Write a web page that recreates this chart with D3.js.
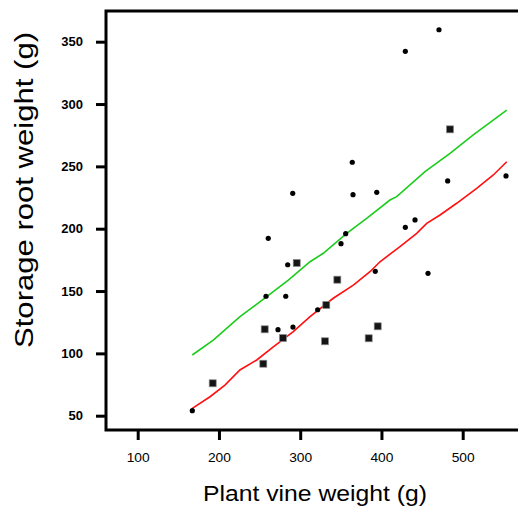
<!DOCTYPE html>
<html><head><meta charset="utf-8">
<script src="https://cdn.jsdelivr.net/npm/d3@7"></script>
<style>html,body{margin:0;padding:0;background:#fff;}svg{display:block;}</style>
</head><body>
<script>
// ---- data ----
const xTicks = [100, 200, 300, 400, 500];
const yTicks = [50, 100, 150, 200, 250, 300, 350];
const xLabel = "Plant vine weight (g)";
const yLabel = "Storage root weight (g)";

// group 1 (round markers)
const dotX = [470.8, 429.4, 364.1, 481.5, 553.3, 365.0, 394.2, 290.8, 260.7, 284.6, 257.9, 282.2, 272.7, 291.1, 167.2, 356.0, 350.2, 429.4, 441.3, 392.4, 457.3, 321.5];
const dotY = [359.6, 342.3, 253.3, 238.3, 242.3, 227.3, 229.2, 228.4, 192.3, 171.1, 145.8, 145.8, 119.0, 121.1, 54.0, 196.0, 188.0, 201.1, 207.0, 165.8, 164.2, 135.0];
// group 2 (square markers)
const sqX = [484.4, 295.7, 256.3, 278.8, 254.6, 192.3, 345.7, 332.1, 330.5, 395.4, 384.3];
const sqY = [279.7, 172.5, 119.3, 112.3, 91.7, 76.0, 159.1, 138.8, 109.7, 121.7, 112.1];

// fitted lines
const redX = [167.2, 189.0, 207.4, 225.8, 246.5, 266.9, 291.5, 312.1, 340.7, 365.4, 385.9, 398.2, 422.8, 443.4, 455.7, 472.1, 492.6, 517.2, 537.7, 554.2];
const redY = [55.9, 65.2, 74.6, 86.7, 94.7, 105.3, 117.4, 129.4, 144.2, 154.8, 165.5, 173.5, 185.6, 196.3, 204.3, 211.0, 220.4, 232.4, 243.1, 253.7];
const greenX = [167.2, 193.0, 225.9, 258.8, 285.4, 312.1, 328.4, 357.2, 381.8, 410.5, 418.8, 453.6, 484.4, 513.0, 554.2];
const greenY = [98.7, 110.7, 129.4, 145.5, 158.8, 173.5, 180.3, 196.3, 208.3, 223.0, 225.7, 245.7, 260.5, 275.2, 295.2];

// ---- drawing ----
const W = 518, H = 510;
const svg = d3.select("body").append("svg").attr("width", W).attr("height", H);

const x = d3.scaleLinear().domain([100, 500]).range([137.7, 462.7]);
const y = d3.scaleLinear().domain([50, 350]).range([415.7, 41.7]);

const fLeft = 106, fTop = 11, fBottom = 430, fRight = 540;

// frame
svg.append("path")
  .attr("d", `M${fRight},${fTop}H${fLeft}V${fBottom}H${fRight}`)
  .attr("fill", "none").attr("stroke", "#000").attr("stroke-width", 3);

// x axis
const xAxis = d3.axisBottom(x).tickValues(xTicks).tickSize(10).tickPadding(12).tickFormat(d3.format("d"));
const gx = svg.append("g").attr("transform", `translate(0,${fBottom})`).call(xAxis);
gx.select(".domain").remove();
gx.selectAll(".tick line").attr("stroke", "#000").attr("stroke-width", 3);
gx.selectAll(".tick text").attr("fill", "#000")
  .attr("textLength", 23).attr("lengthAdjust", "spacingAndGlyphs")
  .style("font-family", "'Liberation Sans', Arial, sans-serif").style("font-size", "13.5px");

// y axis
const yAxis = d3.axisLeft(y).tickValues(yTicks).tickSize(10).tickPadding(13).tickFormat(d3.format("d"));
const gy = svg.append("g").attr("transform", `translate(${fLeft},0)`).call(yAxis);
gy.select(".domain").remove();
gy.selectAll(".tick line").attr("stroke", "#000").attr("stroke-width", 3);
gy.selectAll(".tick text").attr("fill", "#000")
  .style("font-family", "'Liberation Sans', Arial, sans-serif").style("font-size", "13px").style("font-weight", "bold");

// labels
svg.append("text").text(xLabel)
  .attr("x", 315).attr("y", 500.5).attr("text-anchor", "middle")
  .attr("textLength", 224).attr("lengthAdjust", "spacingAndGlyphs")
  .style("font-family", "'Liberation Sans', Arial, sans-serif").style("font-size", "22px").attr("fill", "#000");

svg.append("text").text(yLabel)
  .attr("transform", "translate(33,190) rotate(-90)").attr("text-anchor", "middle")
  .attr("textLength", 316).attr("lengthAdjust", "spacingAndGlyphs")
  .style("font-family", "'Liberation Sans', Arial, sans-serif").style("font-size", "25px").attr("fill", "#000");

// lines
const line = d3.line().x(d => x(d[0])).y(d => y(d[1]));
svg.append("path").datum(greenX.map((v, i) => [v, greenY[i]]))
  .attr("d", line).attr("fill", "none").attr("stroke", "#1ccc1c").attr("stroke-width", 1.6);
svg.append("path").datum(redX.map((v, i) => [v, redY[i]]))
  .attr("d", line).attr("fill", "none").attr("stroke", "#ff1010").attr("stroke-width", 1.6);

// markers
svg.append("g").selectAll("circle").data(dotX.map((v, i) => [v, dotY[i]])).join("circle")
  .attr("cx", d => x(d[0])).attr("cy", d => y(d[1])).attr("r", 2.6).attr("fill", "#000");

const s = 7;
svg.append("g").selectAll("rect").data(sqX.map((v, i) => [v, sqY[i]])).join("rect")
  .attr("x", d => x(d[0]) - s / 2).attr("y", d => y(d[1]) - s / 2)
  .attr("width", s).attr("height", s)
  .attr("fill", "#151515").attr("stroke", "#8a8a8a").attr("stroke-width", 0.7);
</script>
</body></html>
